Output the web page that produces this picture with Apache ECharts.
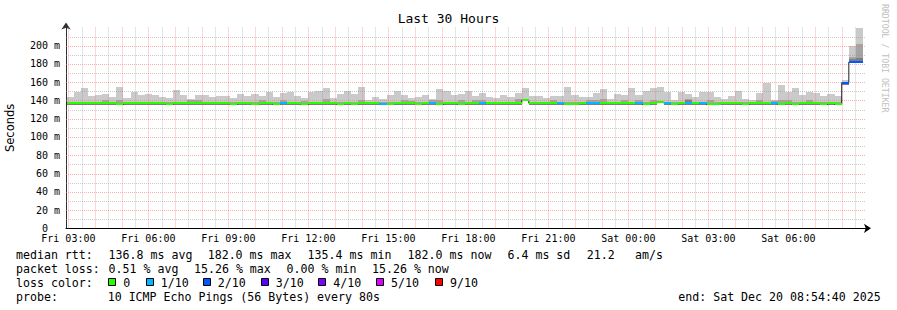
<!DOCTYPE html>
<html><head><meta charset="utf-8">
<script src="https://cdn.jsdelivr.net/npm/echarts@6/dist/echarts.min.js"></script>
<style>html,body{margin:0;padding:0;background:#fff}#c{width:897px;height:310px}</style>
</head><body><div id="c"></div>
<script>
// ---- data ----
const chartTitle = 'Last 30 Hours';
const binStartMinute = 176;   // first 16-minute bin starts Fri 02:56
const binMinutes = 16;
const xStartHour = 2 + 54/60 + 40/3600;  // Fri 02:54:40
const xEndHour = xStartHour + 30;        // Sat 08:54:40
const xTickHours = [3, 6, 9, 12, 15, 18, 21, 24, 27, 30];
const xTickLabels = ['Fri 03:00','Fri 06:00','Fri 09:00','Fri 12:00','Fri 15:00','Fri 18:00','Fri 21:00','Sat 00:00','Sat 03:00','Sat 06:00'];
const yTickValues = [0, 20, 40, 60, 80, 100, 120, 140, 160, 180, 200];
const yTickLabels = ['0  ','20 m','40 m','60 m','80 m','100 m','120 m','140 m','160 m','180 m','200 m'];

const medianRtt = [
 136.9,136.9,136.9,136.9,136.9,136.9,136.9,135.8,136.9,136.9,136.9,136.9,136.9,136.9,
 135.8,136.9,136.9,136.9,136.9,136.9,136.9,136.9,136.9,135.8,136.9,136.9,135.8,136.9,
 136.9,135.8,136.9,136.9,136.9,135.8,136.9,136.9,136.9,136.9,135.8,136.9,135.8,136.9,
 136.9,136.9,135.8,135.8,136.9,136.9,136.9,135.8,136.9,136.9,135.8,136.9,136.9,135.8,
 136.9,136.9,136.9,136.9,136.9,136.9,136.9,136.9,140.0,136.9,136.9,136.9,136.9,136.9,
 135.8,135.8,136.9,136.9,136.9,136.9,136.9,136.9,136.9,136.9,136.9,135.8,136.9,138.3,
 136.9,135.8,136.9,136.9,136.9,136.9,135.8,135.8,136.9,136.9,136.9,135.8,136.9,136.9,
 136.9,136.9,135.8,136.9,135.8,136.9,136.9,136.9,135.8,136.9,135.8,159.5,182.0,182.0
];
const lossLevel = [
 0,0,0,0,0,0,0,0,0,0,0,0,0,0,
 0,0,0,0,0,0,0,0,0,0,0,0,0,0,
 0,0,1,0,0,0,0,0,0,0,0,0,0,0,
 0,0,1,0,0,0,0,0,0,1,0,0,0,0,
 0,0,1,0,0,0,0,0,0,0,0,0,0,1,
 0,0,0,1,1,0,0,0,0,0,1,0,0,0,
 1,0,0,1,0,1,0,0,0,0,0,0,0,0,
 0,1,0,0,0,0,0,0,0,0,0,2,2,2
];
const smokeMax = [
 144,149,153.5,145,146,147,144,155,143,149,146,147,146,144,
 143,151.5,146,142,146,146,144,145,145,143,147,145,147,145,
 149,144,148,149,145,143,149,150.5,153.5,143,147,150.5,147,154.5,
 140.5,144,141.5,146,150.5,146,143,144,146,141.5,152.5,150.5,146,147,
 150.5,145,148,144,143,146,144,148,153.5,145,145,143,145,145,
 154.5,146,144,144,148,152.5,141.5,147,146,153.5,146,150.5,153.5,154.5,
 149,141,149,147,144,149,149,144,141.5,145,150.5,141.5,140.5,148,
 159,140.5,157,149,153.5,146,149,148,145,147,145,162.5,200,219
];
const smokeSecond = [
 138,138,138,138,138,141,138,140.5,138,138,138,138,138,138,
 138,138,138,140,140.5,138,138,138,138,138,138,138,138,140.5,
 138,138,141,138,138,139,138,138,141.5,138,138,138,138,141,
 138,138,138,138,138,140,139,138,138,140.5,141,138,138,140.5,
 138,140,140.5,138,138,138,138,141.5,141.5,138,138,138,140,138,
 138,138,138,141,140.5,141.5,138,138,140.5,138,140,138,141,138,
 138,138,138,142,138,138,140.5,138,138,138,138,138,138,140.5,
 138,139.5,140,140,138,138,140.5,138,138,138,138,160.5,188,201.5
];
const smokeThird = [
 137,137,137,137,137,137,137,137,137,137,137,137,137,137,
 137,137,137,137,137,137,137,137,137,137,137,137,137,137,
 137,137,137,137,137,137,137,137,137,137,137,137,137,137,
 137,137,137,137,137,137,137,137,137,137,137,137,137,137,
 137,137,137,137,137,137,137,137,137,137,137,137,137,137,
 137,137,137,137,137,137,137,137,137,137,137,137,137,137,
 137,137,137,141,137,137,137,137,137,137,137,137,137,137,
 137,137,137,137,137,137,137,137,137,137,137,160,185.5,186.5
];
const smokeMin = [
 135.5,135.5,135.5,135.5,135.5,135.5,135.5,135.5,135.5,135.5,135.5,135.5,135.5,135.5,
 135.5,135.5,135.5,135.5,135.5,135.5,135.5,135.5,135.5,135.5,135.5,135.5,135.5,135.5,
 135.5,135.5,135.5,135.5,135.5,135.5,135.5,135.5,135.5,135.5,135.5,135.5,135.5,135.5,
 135.5,135.5,135.5,135.5,135.5,135.5,135.5,135.5,135.5,135.5,135.5,135.5,135.5,135.5,
 135.5,135.5,135.5,135.5,135.5,135.5,135.5,135.5,139.0,135.5,135.5,135.5,135.5,135.5,
 135.5,135.5,135.5,135.5,135.5,135.5,135.5,135.5,135.5,135.5,135.5,135.5,135.5,137.0,
 135.5,135.5,135.5,135.5,135.5,135.5,135.5,135.5,135.5,135.5,135.5,135.5,135.5,135.5,
 135.5,135.5,135.5,135.5,135.5,135.5,135.5,135.5,135.5,135.5,135.5,156.5,180.8,180.8
];
const lossColors = ['#26ff00','#00b8ff','#0059ff','#5e00ff','#7e00ff','#dd00ff','#ff0000'];
const lossLabels = ['0','1/10','2/10','3/10','4/10','5/10','9/10'];
const smokeColors = ['#cacaca','#a4a4a4','#7e7e7e'];
const legendRtt = ['median rtt:', '136.8 ms avg', '182.0 ms max', '135.4 ms min', '182.0 ms now', '6.4 ms sd', '21.2', 'am/s'];
const legendLoss = ['packet loss:', '0.51 % avg', '15.26 % max', '0.00 % min', '15.26 % now'];
const legendLossColor = 'loss color:';
const legendProbe = ['probe:', '10 ICMP Echo Pings (56 Bytes) every 80s'];
const endText = 'end: Sat Dec 20 08:54:40 2025';
const watermark = 'RRDTOOL / TOBI OETIKER';

// ---- layout (pixel positions of legend items) ----
const rttX = [16, 108.6, 207.7, 307.6, 407.6, 507.5, 586.7, 635];
const lossX = [16, 108.6, 194, 286.6, 372];
const probeX = [16, 107.7];
const sqX = [108.3, 145.7, 202.7, 260.7, 318.3, 376, 435];
const lineY = [254.5, 268.5, 282.5, 296.5];

// ---- build ----
const nb = s => s.replace(/ /g, '\u00a0');
const bars = medianRtt.map((m, i) => {
  const t0 = (binStartMinute + i * binMinutes) / 60;
  const t1 = (binStartMinute + (i + 1) * binMinutes) / 60;
  return [t0, t1, smokeMin[i], smokeThird[i], smokeSecond[i], smokeMax[i], m, lossLevel[i]];
});
const stepData = bars.map(b => [b[0], b[6]]);
stepData.push([bars[bars.length - 1][1], bars[bars.length - 1][6]]);

// grid lines: [x, y, orientation(0 vertical / 1 horizontal), major]
const gridData = [];
for (let h = 3; h <= 32.5; h += 0.5) gridData.push([h, 0, 0, Number.isInteger(h) ? 1 : 0]);
for (let v = 10; v <= 210; v += 10) gridData.push([xStartHour, v, 1, v % 20 === 0 ? 1 : 0]);

const mono = '"DejaVu Sans Mono", monospace';
const LF = '11.6px ' + mono;
const chart = echarts.init(document.getElementById('c'), null, {renderer: 'svg'});

const graphics = [];
const addText = (x, y, t, extra) => graphics.push({type: 'text', x, y,
  style: Object.assign({text: nb(t), font: LF, fill: '#000', textVerticalAlign: 'middle'}, extra || {})});
legendRtt.forEach((t, i) => addText(rttX[i], lineY[0], t));
legendLoss.forEach((t, i) => addText(lossX[i], lineY[1], t));
addText(16, lineY[2], legendLossColor);
lossLabels.forEach((lab, i) => {
  graphics.push({type: 'rect', shape: {x: Math.round(sqX[i]) + 0.5, y: 278.5, width: 7, height: 7},
    style: {fill: lossColors[i], stroke: '#000', lineWidth: 1}});
  addText(sqX[i] + 15, lineY[2], lab);
});
legendProbe.forEach((t, i) => addText(probeX[i], lineY[3], t));
addText(678.3, lineY[3], endText);
graphics.push({type: 'text', x: 885, y: 4, rotation: -Math.PI / 2,
  style: {text: nb(watermark), font: '8.2px ' + mono, fill: '#c0c0c0', textAlign: 'left', textVerticalAlign: 'middle'}});

function xPix(api, t) { return Math.round(api.coord([t, 0])[0]); }
function yPix(api, v) { return Math.round(api.coord([xStartHour, v])[1]); }

chart.setOption({
  animation: false,
  backgroundColor: '#fff',
  title: {text: chartTitle, left: 'center', top: 12, padding: 0,
    textStyle: {fontFamily: mono, fontSize: 13, fontWeight: 'normal', color: '#000'}},
  grid: {left: 66, top: 27.4, width: 800, height: 200.9, outerBoundsMode: 'none', containLabel: false},
  xAxis: {type: 'value', min: xStartHour, max: xEndHour,
    axisLine: {show: true, onZero: false, lineStyle: {color: '#000', width: 1},
      symbol: ['none', 'arrow'], symbolSize: [7, 7], symbolOffset: [0, 5]},
    axisTick: {show: false}, splitLine: {show: false},
    axisLabel: {customValues: xTickHours, fontFamily: mono, fontSize: 10, color: '#000', margin: 5,
      formatter: v => { const i = xTickHours.indexOf(Math.round(v)); return i >= 0 ? xTickLabels[i] : ''; }}},
  yAxis: {type: 'value', min: 0, max: 220, interval: 20,
    name: 'Seconds', nameLocation: 'middle', nameGap: 50,
    nameTextStyle: {fontFamily: '"DejaVu Sans", sans-serif', fontSize: 11.5, color: '#000'},
    axisLine: {show: true, lineStyle: {color: '#303030', width: 1},
      symbol: ['none', 'arrow'], symbolSize: [7, 7], symbolOffset: [0, 5]},
    axisTick: {show: false}, splitLine: {show: false},
    axisLabel: {fontFamily: mono, fontSize: 10, color: '#000', margin: 6,
      formatter: v => { const i = yTickValues.indexOf(v); return i >= 0 ? nb(yTickLabels[i]) : ''; }}},
  graphic: graphics,
  series: [
    {type: 'custom', name: 'smoke', z: 2, clip: true, data: bars,
      encode: {x: [0, 1], y: [2, 5]},
      renderItem: (params, api) => {
        const t0 = api.value(0), t1 = api.value(1);
        const x0 = xPix(api, t0), x1 = xPix(api, t1);
        const yLo = yPix(api, api.value(2));
        const mk = (top, color) => {
          const yTop = yPix(api, top);
          return {type: 'rect', shape: {x: x0, y: yTop, width: x1 - x0, height: Math.max(0, yLo - yTop)}, style: {fill: color}};
        };
        return {type: 'group', children: [mk(api.value(5), smokeColors[0]), mk(api.value(4), smokeColors[1]), mk(api.value(3), smokeColors[2])]};
      }},
    {type: 'custom', name: 'grid', z: 3, silent: true, data: gridData,
      encode: {x: 0, y: 1},
      renderItem: (params, api) => {
        const cs = params.coordSys;
        const major = api.value(3) === 1;
        const style = {stroke: major ? 'rgba(255,105,105,0.55)' : 'rgba(140,140,140,0.45)', lineWidth: 1, lineDash: [1, 1]};
        if (api.value(2) === 0) {
          const x = xPix(api, api.value(0)) + 0.5;
          return {type: 'line', shape: {x1: x, y1: cs.y, x2: x, y2: cs.y + cs.height}, style};
        }
        const y = yPix(api, api.value(1)) + 0.5;
        return {type: 'line', shape: {x1: cs.x, y1: y, x2: cs.x + cs.width, y2: y}, style};
      }},
    {type: 'line', name: 'median', z: 4, step: 'end', data: stepData, symbol: 'none',
      lineStyle: {color: '#202020', width: 1}},
    {type: 'custom', name: 'loss', z: 5, clip: true, data: bars,
      encode: {x: [0, 1], y: 6},
      renderItem: (params, api) => {
        const t0 = api.value(0), t1 = api.value(1);
        const x0 = xPix(api, t0), x1 = xPix(api, t1);
        const yc = yPix(api, api.value(6));
        return {type: 'rect', shape: {x: x0, y: yc - 1, width: x1 - x0, height: 2},
          style: {fill: lossColors[api.value(7)]}};
      }}
  ]
});
</script></body></html>
